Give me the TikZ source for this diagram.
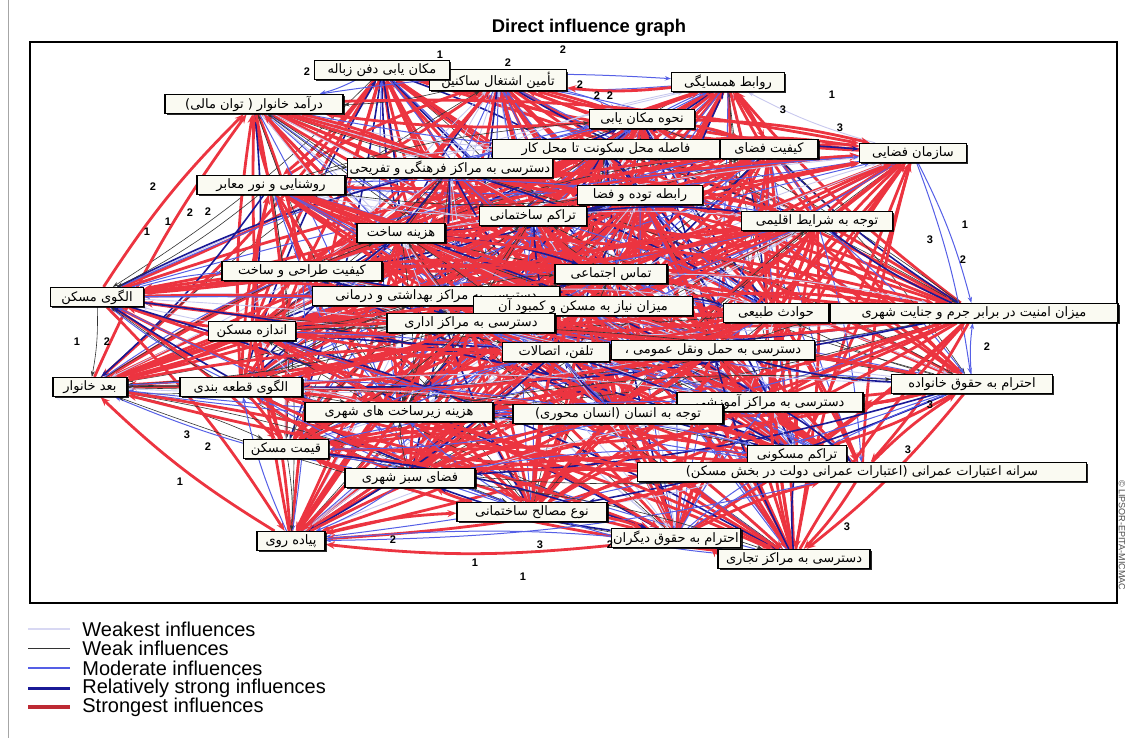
\documentclass[tikz,border=0pt]{standalone}
\usepackage{fontspec}
\setmainfont{Liberation Sans}
\newfontfamily\farsi[Script=Arabic]{DejaVu Sans}
\TeXXeTstate=1
\usetikzlibrary{arrows.meta,shadows}
\pgfdeclarelayer{links}
\pgfsetlayers{links,main}
\definecolor{strongred}{RGB}{236,52,64}
\definecolor{relblue}{RGB}{25,25,150}
\definecolor{modblue}{RGB}{85,95,230}
\definecolor{faintblue}{RGB}{200,200,238}
\definecolor{boxfill}{RGB}{250,250,242}
\newcommand\fa[1]{{\farsi\beginR #1\endR}}

\begin{document}
\begin{tikzpicture}[x=0.5pt,y=-0.5pt,
	var/.style={draw,line width=0.6pt,fill=boxfill,inner sep=1pt,minimum height=9.5pt,
		font=\fontsize{6.5}{7}\selectfont,
		drop shadow={shadow xshift=0.9pt,shadow yshift=-0.9pt,fill=black,opacity=0.85}},
	bw/.style={minimum width=#1*0.5pt},
	num/.style={font=\fontsize{5.5}{6}\selectfont\bfseries,inner sep=0pt},
	lk0/.style={strongred,line width=1.4pt,-{Stealth[length=4.5pt,width=3.5pt]}},
	lk1/.style={lk0},
	lk2/.style={lk0},
	lk3/.style={lk0},
	lk4/.style={lk0},
	lk5/.style={relblue,line width=0.8pt,-{Stealth[length=3.5pt,width=2.5pt]}},
	lk6/.style={modblue,line width=0.5pt,-{Stealth[length=3pt,width=2.2pt]}},
	lk7/.style={lk6},
	lk8/.style={black!80,line width=0.3pt,-{Stealth[length=3pt,width=2pt]}},
	lk9/.style={faintblue,line width=0.45pt,-{Stealth[length=3pt,width=2pt]}},
	legline/.style={line width=1.2pt},
	legtext/.style={anchor=west,font=\fontsize{10}{11}\selectfont,inner sep=0pt}]
	\useasboundingbox (0,0) rectangle (1127,738);
	\draw[black!35,line width=0.4pt] (8,0) -- (8,738);

	% title and frame
	\node[font=\fontsize{9.2}{10}\selectfont\bfseries] (title) at (589,28) {Direct influence graph};
	\draw[line width=0.9pt] (30,42) rectangle (1117,603);
	\node[rotate=-90,font=\fontsize{4.5}{5}\selectfont,text=black!70] (copy) at (1122,535) {© LIPSOR-EPITA-MICMAC};

	% variables
	\node[var,bw=137] (n2) at (498,80) {\fa{تأمین اشتغال ساکنین}};
	\node[var,bw=135] (n1) at (382,70) {\fa{مکان یابی دفن زباله}};
	\node[var,bw=113] (n3) at (728,82) {\fa{روابط همسایگی}};
	\node[var,bw=178] (n4) at (254,104) {\fa{درآمد خانوار ( توان مالی)}};
	\node[var,bw=105] (n5) at (642,119) {\fa{نحوه مکان یابی}};
	\node[var,bw=227] (n6) at (606,149) {\fa{فاصله محل سکونت تا محل کار}};
	\node[var,bw=98] (n7) at (769,149) {\fa{کیفیت فضای}};
	\node[var,bw=107] (n8) at (913,153) {\fa{سازمان فضایی}};
	\node[var,bw=180] (n9) at (450,168) {\fa{دسترسی به مراکز فرهنگی و تفریحی}};
	\node[var,bw=148] (n10) at (271,185) {\fa{روشنایی و نور معابر}};
	\node[var,bw=125] (n11) at (640,195) {\fa{رابطه توده و فضا}};
	\node[var,bw=107] (n12) at (533,216) {\fa{تراکم ساختمانی}};
	\node[var,bw=151] (n13) at (817,221) {\fa{توجه به شرایط اقلیمی}};
	\node[var,bw=88] (n14) at (401,233) {\fa{هزینه ساخت}};
	\node[var,bw=160] (n15) at (302,271) {\fa{کیفیت طراحی و ساخت}};
	\node[var,bw=112] (n16) at (611,274) {\fa{تماس اجتماعی}};
	\node[var,bw=93] (n17) at (97,297) {\fa{الگوی مسکن}};
	\node[var,bw=247] (n18) at (436,296) {\fa{دسترسی به مراکز بهداشتی و درمانی}};
	\node[var,bw=219] (n19) at (583,306) {\fa{میزان نیاز به مسکن و کمبود آن}};
	\node[var,bw=105] (n20) at (776,313) {\fa{حوادث طبیعی}};
	\node[var,bw=288] (n21) at (974,313) {\fa{میزان امنیت در برابر جرم و جنایت شهری}};
	\node[var,bw=87] (n22) at (252,331) {\fa{اندازه مسکن}};
	\node[var,bw=168] (n23) at (471,323) {\fa{دسترسی به مراکز اداری}};
	\node[var,bw=203] (n24) at (713,350) {\fa{دسترسی به حمل ونقل عمومی ،}};
	\node[var,bw=107] (n25) at (556,352) {\fa{تلفن، اتصالات}};
	\node[var,bw=74] (n26) at (90,387) {\fa{بعد خانوار}};
	\node[var,bw=122] (n27) at (241,387) {\fa{الگوی قطعه بندی}};
	\node[var,bw=161] (n28) at (972,384) {\fa{احترام به حقوق خانواده}};
	\node[var,bw=186] (n29) at (770,402) {\fa{دسترسی به مراکز آموزشی}};
	\node[var,bw=188] (n30) at (399,412) {\fa{هزینه زیرساخت های شهری}};
	\node[var,bw=210] (n31) at (618,414) {\fa{توجه به انسان (انسان محوری)}};
	\node[var,bw=85] (n32) at (286,449) {\fa{قیمت مسکن}};
	\node[var,bw=99] (n33) at (797,455) {\fa{تراکم مسکونی}};
	\node[var,bw=449] (n34) at (862,472) {\fa{سرانه اعتبارات عمرانی (اعتبارات عمرانی دولت در بخش مسکن)}};
	\node[var,bw=130] (n35) at (410,478) {\fa{فضای سبز شهری}};
	\node[var,bw=150] (n36) at (532,512) {\fa{نوع مصالح ساختمانی}};
	\node[var,bw=118] (n37) at (676,538) {\fa{احترام به حقوق دیگران}};
	\node[var,bw=152] (n38) at (794,559) {\fa{دسترسی به مراکز تجاری}};
	\node[var,bw=68] (n39) at (291,541) {\fa{پیاده روی}};

	% influences
	\begin{pgfonlayer}{links}
	\pgfmathsetseed{5}
	\foreach \i in {1,...,39}{
		\foreach \j in {1,...,39}{
			\ifnum\i<\j
				\pgfmathrandominteger{\lw}{0}{9}
				\pgfmathrandominteger{\dr}{0}{1}
				\ifnum\dr=0
					\draw[lk\lw] (n\i) to[bend left=6] (n\j);
				\else
					\draw[lk\lw] (n\j) to[bend left=6] (n\i);
				\fi
			\fi
		}
	}
	\end{pgfonlayer}

	% values on the links
	\foreach \x/\y/\t [count=\n] in {440/55/1,563/50/2,508/63/2,307/72/2,580/85/2,597/96/2,610/96/2,
		783/110/3,840/128/3,832/95/1,153/187/2,147/232/1,168/222/1,190/213/2,208/212/2,
		77/342/1,107/342/2,187/435/3,208/447/2,180/482/1,965/225/1,930/240/3,963/260/2,
		987/347/2,930/405/3,908/450/3,475/563/1,523/577/1,540/545/3,610/545/2,393/540/2,847/527/3}
		\node[num] (v\n) at (\x,\y) {\t};

	% legend
	\node[legtext] (w1) at (82,629) {Weakest influences};
	\node[legtext] (w2) at (82,648) {Weak influences};
	\node[legtext] (w3) at (82,668) {Moderate influences};
	\node[legtext] (w4) at (82,688) {Relatively strong influences};
	\node[legtext] (w5) at (82,707) {Strongest influences};
	\coordinate (l1) at (28,629); \coordinate (m1) at (70,629);
	\coordinate (l2) at (28,648); \coordinate (m2) at (70,648);
	\coordinate (l3) at (28,668); \coordinate (m3) at (70,668);
	\coordinate (l4) at (28,688); \coordinate (m4) at (70,688);
	\coordinate (l5) at (28,707); \coordinate (m5) at (70,707);
	\draw[legline,faintblue!70] (l1) -- (m1);
	\draw[legline,black!80,line width=0.5pt] (l2) -- (m2);
	\draw[legline,modblue] (l3) -- (m3);
	\draw[legline,relblue,line width=1.5pt] (l4) -- (m4);
	\draw[legline,strongred!80!black,line width=1.7pt] (l5) -- (m5);
\end{tikzpicture}
\end{document}
